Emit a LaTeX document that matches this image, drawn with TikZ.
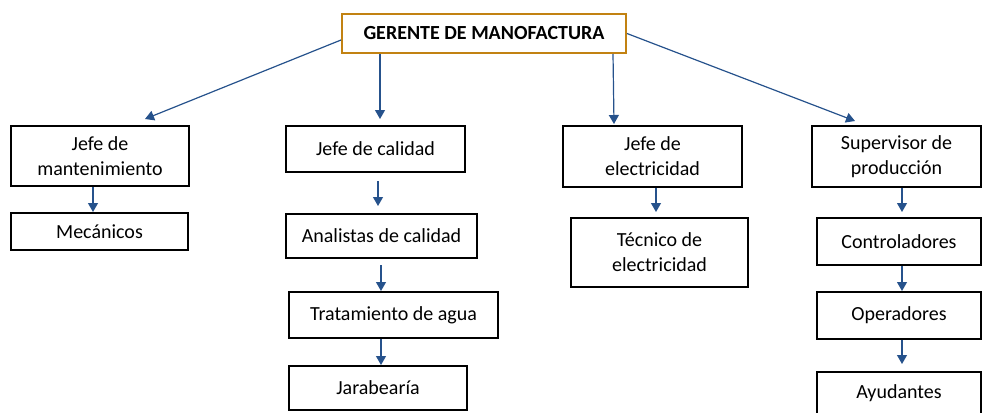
\documentclass[tikz,border=0pt]{standalone}
\usepackage{fontspec}
\setmainfont{Carlito}
\usetikzlibrary{arrows.meta}
\definecolor{arrblue}{RGB}{38,82,140}
\definecolor{gold}{RGB}{194,130,18}
\tikzset{
  box/.style={draw=black, line width=1pt, fill=white, inner sep=0pt, align=center,
    font=\fontsize{10pt}{12.5pt}\selectfont},
  topbox/.style={box, draw=gold, font=\fontsize{10pt}{12.5pt}\selectfont\bfseries},
  arr/.style={draw=arrblue, line width=0.6pt, -{Triangle[length=4.5pt,width=5pt]}}
}
\begin{document}
\begin{tikzpicture}[x=0.5pt,y=-0.5pt]
\useasboundingbox (0,0) rectangle (983,412);
\clip (0,0) rectangle (983,412);
% nodes (centres, sizes in px -> pt = px/2)
\node[topbox, minimum width=142pt, minimum height=19.5pt] (ger) at (484,33.5) {GERENTE DE MANOFACTURA};
\node[box, minimum width=89pt, minimum height=30pt] (jm) at (100,156) {Jefe de\\mantenimiento};
\node[box, minimum width=88.5pt, minimum height=18.5pt] (mec) at (99.5,231.5) {Mecánicos};
\node[box, minimum width=89.5pt, minimum height=23pt] (jc) at (375.5,149) {Jefe de calidad};
\node[box, minimum width=95.5pt, minimum height=22pt] (an) at (381.5,236) {Analistas de calidad};
\node[box, minimum width=104.5pt, minimum height=23pt] (tr) at (393.5,315) {Tratamiento de agua};
\node[box, minimum width=89pt, minimum height=22pt] (ja) at (378,388) {Jarabearía};
\node[box, minimum width=89.5pt, minimum height=30.5pt] (je) at (652.5,156.5) {Jefe de\\electricidad};
\node[box, minimum width=88.5pt, minimum height=34.5pt] (te) at (659.5,252.5) {Técnico de\\electricidad};
\node[box, minimum width=84.5pt, minimum height=30.5pt] (sp) at (896.5,156.5) {Supervisor de\\producción};
\node[box, minimum width=82pt, minimum height=23.5pt] (co) at (899,241.5) {Controladores};
\node[box, minimum width=82pt, minimum height=23.5pt] (op) at (899,315.5) {Operadores};
\node[box, minimum width=82pt, minimum height=21pt] (ay) at (899,393) {Ayudantes};
% connectors
\draw[arr] ([yshift=-3.25pt]ger.west) -- ([xshift=22.5pt,yshift=3pt]jm.north);
\draw[arr] ([xshift=-52pt]ger.south) -- ([xshift=2.25pt,yshift=3pt]jc.north);
\draw[arr] ([xshift=64.5pt]ger.south) -- ([xshift=-19.25pt,yshift=0.5pt]je.north);
\draw[arr] (ger.east) -- ([xshift=-20.75pt,yshift=2pt]sp.north);
\draw[arr] ([xshift=-3.5pt]jm.south) -- ([xshift=-3.25pt]mec.north);
\draw[arr, shorten <=4pt, shorten >=3.5pt] ([xshift=1.25pt]jc.south) -- ([xshift=1.25pt]jc.south |- an.north);
\draw[arr, shorten <=3pt] ([xshift=-0.25pt]an.south) -- ([xshift=-6.25pt]tr.north);
\draw[arr] ([xshift=-6.25pt]tr.south) -- ([xshift=1.5pt]ja.north);
\draw[arr, shorten >=2.5pt] ([xshift=1.75pt]je.south) -- ([xshift=-1.75pt]te.north);
\draw[arr, shorten >=2.5pt] ([xshift=2.75pt]sp.south) -- ([xshift=1.5pt]co.north);
\draw[arr] ([xshift=1.5pt]co.south) -- ([xshift=1.5pt]op.north);
\draw[arr, shorten >=3.5pt] ([xshift=1.5pt]op.south) -- ([xshift=1.5pt]ay.north);
\end{tikzpicture}
\end{document}
